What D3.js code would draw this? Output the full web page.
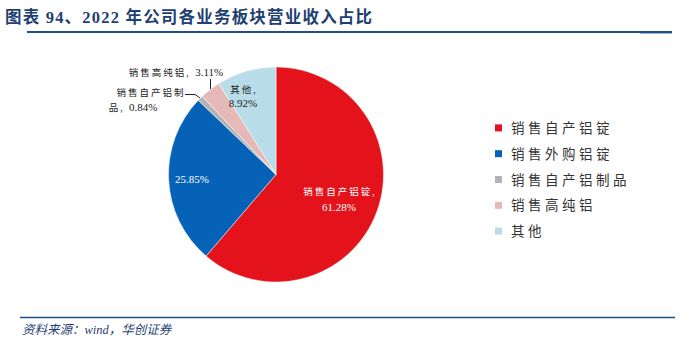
<!DOCTYPE html>
<html>
<head>
<meta charset="utf-8">
<script src="https://cdn.jsdelivr.net/npm/d3@7/dist/d3.min.js"></script>
<style>
  html, body { margin: 0; padding: 0; background: #fff; }
  svg { display: block; }
</style>
</head>
<body>
<svg id="chart" width="692" height="343"></svg>
<script>
// Revenue share by business segment, 2022
const categories = ["销售自产铝锭", "销售外购铝锭", "销售自产铝制品", "销售高纯铝", "其他"];
const shares = [61.28, 25.85, 0.84, 3.11, 8.92];
const colors = ["#e3121b", "#0562b7", "#b3b3b3", "#e6b9b9", "#b8dde8"];

const svg = d3.select("#chart");
const cjk = "'Liberation Serif', 'Noto Sans CJK SC', serif";
const serif = "'Liberation Serif', 'DejaVu Serif', serif";

// Title
svg.append("text")
  .attr("x", 5).attr("y", 23)
  .attr("font-family", cjk)
  .attr("font-weight", "bold")
  .attr("font-size", 16.5)
  .attr("letter-spacing", 1.2)
  .attr("fill", "#1f3f73")
  .text("图表 94、2022 年公司各业务板块营业收入占比");

svg.append("line")
  .attr("x1", 27).attr("x2", 672).attr("y1", 32).attr("y2", 32)
  .attr("stroke", "#1f4e8c").attr("stroke-width", 2);
svg.append("line")
  .attr("x1", 640).attr("x2", 672).attr("y1", 33.5).attr("y2", 33.5)
  .attr("stroke", "#9fb7d8").attr("stroke-width", 1);

// Pie
const cx = 276, cy = 174.5, r = 107.5;
const pie = d3.pie().sort(null).value(d => d.v);
const data = categories.map((c, i) => ({ c, v: shares[i], col: colors[i] }));
const arcs = pie(data);
const arc = d3.arc().innerRadius(0).outerRadius(r);

const g = svg.append("g").attr("transform", `translate(${cx},${cy})`);
g.selectAll("path").data(arcs).enter().append("path")
  .attr("d", arc)
  .attr("fill", d => d.data.col)
  .attr("stroke", "#fff")
  .attr("stroke-width", 0.5);

const fmt = v => v.toFixed(2) + "%";
const lbl = (x, y, t, fill, anchor) => svg.append("text")
  .attr("x", x).attr("y", y)
  .attr("text-anchor", anchor || "middle")
  .attr("font-family", serif)
  .attr("font-size", 11)
  .attr("fill", fill)
  .text(t);
const cjkSpan = (sel, t) => sel.append("tspan")
  .attr("font-family", cjk).attr("font-size", 9.5).attr("letter-spacing", 2).text(t);

// In-slice labels
cjkSpan(lbl(340, 195, "", "#fff"), categories[0] + ",");
lbl(339, 211, fmt(shares[0]), "#fff");
lbl(192, 183, fmt(shares[1]), "#fff");
cjkSpan(lbl(244, 93, "", "#222"), categories[4] + ",");
lbl(243, 107, fmt(shares[4]), "#222");

// Outside labels with leader lines
const t1 = lbl(176, 76, "", "#222");
cjkSpan(t1, categories[3] + ", ");
t1.append("tspan").text(fmt(shares[3]));
svg.append("polyline")
  .attr("points", "210.5,79 210.5,89")
  .attr("fill", "none").attr("stroke", "#222").attr("stroke-width", 1);

cjkSpan(lbl(151, 96, "", "#222"), "销售自产铝制");
const t2 = lbl(133, 111, "", "#222");
cjkSpan(t2, "品, ");
t2.append("tspan").text(fmt(shares[2]));
svg.append("polyline")
  .attr("points", "185,94.5 195,94.5 200,98")
  .attr("fill", "none").attr("stroke", "#222").attr("stroke-width", 1);

// Legend
const legend = svg.append("g");
const rowY = d3.scaleBand().domain(categories).range([115, 244]);
categories.forEach((c, i) => {
  const y = rowY(c) + rowY.bandwidth() / 2;
  legend.append("rect")
    .attr("x", 495).attr("y", y - 3.5).attr("width", 7).attr("height", 7)
    .attr("fill", colors[i]);
  legend.append("text")
    .attr("x", 511).attr("y", y + 5)
    .attr("font-family", cjk)
    .attr("font-size", 13.5)
    .attr("letter-spacing", 3.5)
    .attr("fill", "#333")
    .text(c);
});

// Footer
svg.append("line")
  .attr("x1", 20).attr("x2", 675).attr("y1", 317.5).attr("y2", 317.5)
  .attr("stroke", "#1f4e8c").attr("stroke-width", 1.5);
svg.append("text")
  .attr("x", 22).attr("y", 334)
  .attr("font-family", cjk)
  .attr("font-style", "italic")
  .attr("font-size", 12.5)
  .attr("fill", "#1f3f73")
  .text("资料来源：wind，华创证券");
</script>
</body>
</html>
